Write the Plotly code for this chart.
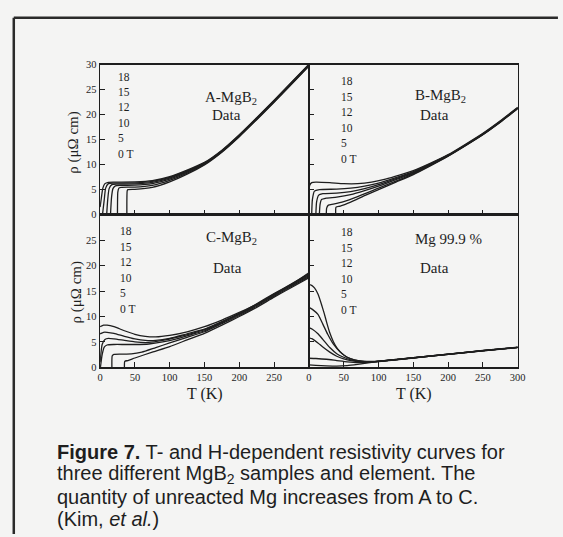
import plotly.graph_objects as go

# ---------------- data ----------------
FIELDS = ["0 T", "5", "10", "12", "15", "18"]

# A-MgB2
A_T0 = [38.5, 39, 40, 50, 75, 100, 125, 150, 175, 200, 225, 250, 275, 300]
A_R0 = [0, 4.8, 5.0, 5.05, 5.45, 6.55, 8.1, 9.95, 12.5, 15.6, 19.0, 22.5, 26.1, 29.7]
A_T5 = [25, 25.5, 27, 30, 40, 50, 75, 100, 125, 150, 175, 200, 225, 250, 275, 300]
A_R5 = [0, 4.5, 5.3, 5.45, 5.5, 5.5, 5.85, 6.85, 8.3, 10.1, 12.6, 15.7, 19.1, 22.6, 26.2, 29.8]
A_T10 = [15, 16.5, 18.5, 22, 30, 50, 75, 100, 125, 150, 175, 200, 225, 250, 275, 300]
A_R10 = [0, 3.5, 5.2, 5.75, 5.85, 5.9, 6.2, 7.1, 8.5, 10.2, 12.7, 15.8, 19.2, 22.7, 26.3, 29.9]
A_T12 = [9.5, 11, 13, 17, 25, 50, 75, 100, 125, 150, 175, 200, 225, 250, 275, 300]
A_R12 = [0, 3.0, 5.2, 6.0, 6.1, 6.15, 6.45, 7.3, 8.65, 10.3, 12.75, 15.85, 19.25, 22.75, 26.35, 29.95]
A_T15 = [3.5, 6, 8, 12, 20, 50, 75, 100, 125, 150, 175, 200, 225, 250, 275, 300]
A_R15 = [0, 3.0, 5.3, 6.2, 6.3, 6.35, 6.65, 7.45, 8.75, 10.35, 12.8, 15.9, 19.3, 22.8, 26.4, 30.0]
A_T18 = [0, 2, 4, 7, 12, 20, 50, 75, 100, 125, 150, 175, 200, 225, 250, 275, 300]
A_R18 = [1.5, 3.5, 5.3, 6.2, 6.45, 6.5, 6.55, 6.8, 7.6, 8.9, 10.45, 12.9, 16.0, 19.4, 22.9, 26.5, 30.1]

# B-MgB2
B_T0 = [38.5, 39, 45, 60, 80, 100, 125, 150, 175, 200, 225, 250, 275, 300]
B_R0 = [0, 1.5, 1.7, 2.5, 3.8, 5.0, 6.5, 8.0, 9.8, 11.7, 13.8, 16.0, 18.5, 21.2]
B_T5 = [25, 25.5, 28, 35, 50, 70, 100, 125, 150, 175, 200, 225, 250, 275, 300]
B_R5 = [0, 1.3, 1.9, 2.1, 2.6, 3.6, 5.3, 6.7, 8.15, 9.9, 11.75, 13.85, 16.05, 18.55, 21.25]
B_T10 = [15, 16, 18, 25, 40, 60, 80, 100, 125, 150, 175, 200, 225, 250, 275, 300]
B_R10 = [0, 2.0, 3.0, 3.3, 3.5, 4.0, 4.8, 5.7, 7.0, 8.3, 10.0, 11.8, 13.9, 16.1, 18.6, 21.3]
B_T12 = [10, 11, 14, 20, 40, 60, 80, 100, 125, 150, 175, 200, 225, 250, 275, 300]
B_R12 = [0, 2.5, 3.9, 4.2, 4.3, 4.6, 5.2, 6.0, 7.2, 8.45, 10.1, 11.85, 13.95, 16.15, 18.65, 21.35]
B_T15 = [4, 5, 8, 15, 40, 60, 80, 100, 125, 150, 175, 200, 225, 250, 275, 300]
B_R15 = [0, 3.0, 4.7, 5.0, 5.1, 5.3, 5.7, 6.3, 7.4, 8.6, 10.2, 11.9, 14.0, 16.2, 18.7, 21.4]
B_T18 = [0, 1, 4, 10, 30, 50, 70, 90, 110, 130, 150, 175, 200, 225, 250, 275, 300]
B_R18 = [3.5, 5.8, 6.4, 6.5, 6.4, 6.2, 6.2, 6.5, 7.1, 7.9, 8.8, 10.3, 12.0, 14.1, 16.3, 18.8, 21.5]

# C-MgB2
C_T0 = [35, 35.5, 40, 50, 75, 100, 125, 150, 175, 200, 225, 250, 275, 300]
C_R0 = [0, 1.2, 1.35, 1.85, 3.0, 4.1, 5.4, 6.7, 8.3, 10.0, 11.8, 13.8, 15.7, 17.6]
C_T5 = [17, 17.5, 20, 30, 45, 60, 80, 100, 125, 150, 175, 200, 225, 250, 275, 300]
C_R5 = [0, 2.3, 2.55, 2.6, 2.65, 3.0, 3.9, 4.8, 5.9, 7.0, 8.6, 10.2, 12.0, 14.0, 15.9, 17.8]
C_T10 = [0.5, 3, 6, 10, 20, 35, 50, 70, 90, 110, 130, 150, 175, 200, 225, 250, 275, 300]
C_R10 = [0, 2.5, 4.0, 4.4, 4.5, 4.5, 4.5, 4.6, 5.0, 5.6, 6.4, 7.2, 8.8, 10.4, 12.2, 14.2, 16.1, 18.0]
C_T12 = [0, 3, 7, 12, 20, 35, 50, 70, 90, 110, 130, 150, 175, 200, 225, 250, 275, 300]
C_R12 = [1.0, 4.5, 5.5, 5.7, 5.6, 5.3, 5.0, 4.9, 5.3, 5.9, 6.6, 7.4, 8.9, 10.5, 12.3, 14.4, 16.3, 18.2]
C_T15 = [0, 5, 10, 20, 35, 50, 65, 80, 100, 125, 150, 175, 200, 225, 250, 275, 300]
C_R15 = [6.6, 6.9, 6.9, 6.7, 6.1, 5.6, 5.3, 5.3, 5.7, 6.6, 7.5, 9.0, 10.6, 12.5, 14.5, 16.4, 18.4]
C_T18 = [0, 5, 10, 20, 35, 50, 65, 80, 100, 125, 150, 175, 200, 225, 250, 275, 300]
C_R18 = [8.0, 8.3, 8.3, 8.0, 7.2, 6.5, 6.1, 6.0, 6.3, 7.0, 8.0, 9.3, 10.8, 12.4, 14.3, 16.3, 18.6]

# Mg 99.9 %
D_T0 = [0, 10, 25, 40, 55, 70, 85, 100, 150, 200, 250, 300]
D_R0 = [0.5, 0.4, 0.3, 0.25, 0.35, 0.6, 0.9, 1.15, 1.85, 2.55, 3.25, 3.9]
D_T5 = [0, 10, 25, 40, 55, 70, 85, 100, 150, 200, 250, 300]
D_R5 = [1.8, 1.75, 1.6, 1.35, 1.1, 0.95, 1.0, 1.2, 1.87, 2.57, 3.27, 3.92]
D_T10 = [0, 5, 13, 20, 30, 40, 50, 60, 75, 90, 100, 150, 200, 250, 300]
D_R10 = [5.8, 5.6, 4.8, 4.0, 3.0, 2.2, 1.7, 1.35, 1.1, 1.1, 1.2, 1.88, 2.58, 3.28, 3.93]
D_T12 = [0, 5, 13, 20, 30, 40, 50, 60, 75, 90, 100, 150, 200, 250, 300]
D_R12 = [7.8, 7.5, 6.6, 5.5, 3.9, 2.7, 2.0, 1.5, 1.15, 1.1, 1.2, 1.89, 2.59, 3.29, 3.94]
D_T15 = [0, 5, 13, 20, 27, 35, 45, 55, 65, 80, 95, 150, 200, 250, 300]
D_R15 = [11.8, 11.4, 10.4, 8.5, 6.5, 4.6, 3.0, 2.0, 1.5, 1.15, 1.15, 1.9, 2.6, 3.3, 3.95]
D_T18 = [0, 4, 8, 13, 18, 22, 26, 30, 35, 41, 48, 55, 65, 78, 90, 100, 150, 200, 250, 300]
D_R18 = [16.3, 16.1, 15.6, 14.4, 12.4, 10.6, 8.6, 6.8, 5.1, 3.7, 2.7, 2.0, 1.5, 1.25, 1.2, 1.25, 1.92, 2.62, 3.32, 3.97]

PANEL_TITLES = ["A-MgB<sub>2</sub>", "B-MgB<sub>2</sub>", "C-MgB<sub>2</sub>", "Mg 99.9 %"]
X_TICKS_RIGHT = [0, 50, 100, 150, 200, 250, 300]
X_TICKS_LEFT = [0, 50, 100, 150, 200, 250]
Y_TICKS_TOP = [0, 5, 10, 15, 20, 25, 30]
Y_TICKS_BOTTOM = [0, 5, 10, 15, 20, 25]

CAPTION = [
    "<b>Figure 7.</b> T- and H-dependent resistivity curves for",
    "three different MgB<sub>2</sub> samples and element. The",
    "quantity of unreacted Mg increases from A to C.",
    "(Kim, <i>et al.</i>)",
]

# ---------------- figure ----------------
W, H = 563, 537
BG = "#f4f4f3"
INK = "#1e1e1e"
SERIF = "Liberation Serif, Times New Roman, serif"
SANS = "Liberation Sans, Arial, sans-serif"

def px(x):
    return x / W

def py(y):
    return 1 - y / H

panels = [
    ([(A_T0, A_R0), (A_T5, A_R5), (A_T10, A_R10), (A_T12, A_R12), (A_T15, A_R15), (A_T18, A_R18)], "x", "y"),
    ([(B_T0, B_R0), (B_T5, B_R5), (B_T10, B_R10), (B_T12, B_R12), (B_T15, B_R15), (B_T18, B_R18)], "x2", "y2"),
    ([(C_T0, C_R0), (C_T5, C_R5), (C_T10, C_R10), (C_T12, C_R12), (C_T15, C_R15), (C_T18, C_R18)], "x3", "y3"),
    ([(D_T0, D_R0), (D_T5, D_R5), (D_T10, D_R10), (D_T12, D_R12), (D_T15, D_R15), (D_T18, D_R18)], "x4", "y4"),
]

fig = go.Figure()
for curves, xa, ya in panels:
    for (t, r), name in zip(curves, FIELDS):
        fig.add_trace(go.Scatter(
            x=t, y=r, mode="lines", xaxis=xa, yaxis=ya, name=name,
            line=dict(color=INK, width=1.3, shape="spline", smoothing=0.5),
            showlegend=False, hoverinfo="skip"))

# plot-area pixel boxes
XL = (99, 312)
XR = (312, 525)
YT = (61, 214)
YB = (214, 370)

def xdom(a):
    return [px(a[0]), px(a[1])]

def ydom(a):
    return [py(a[1]), py(a[0])]

axis_common = dict(showline=True, linecolor=INK, linewidth=1.4, mirror=True,
                   ticks="inside", ticklen=5, tickwidth=1, tickcolor=INK,
                   showgrid=False, zeroline=False,
                   tickfont=dict(family=SERIF, size=10.5, color=INK))

fig.update_layout(
    width=W, height=H, margin=dict(l=0, r=0, t=0, b=0),
    paper_bgcolor=BG, plot_bgcolor=BG, showlegend=False,
    xaxis=dict(domain=xdom(XL), range=[0, 300], anchor="y", tickvals=X_TICKS_RIGHT, showticklabels=False, **axis_common),
    yaxis=dict(domain=ydom(YT), range=[0, 30], anchor="x", tickvals=Y_TICKS_TOP, **axis_common),
    xaxis2=dict(domain=xdom(XR), range=[0, 300], anchor="y2", tickvals=X_TICKS_RIGHT, showticklabels=False, **axis_common),
    yaxis2=dict(domain=ydom(YT), range=[0, 30], anchor="x2", tickvals=Y_TICKS_TOP, showticklabels=False, **axis_common),
    xaxis3=dict(domain=xdom(XL), range=[0, 300], anchor="y3", tickvals=X_TICKS_LEFT, **axis_common),
    yaxis3=dict(domain=ydom(YB), range=[0, 30], anchor="x3", tickvals=Y_TICKS_BOTTOM, **axis_common),
    xaxis4=dict(domain=xdom(XR), range=[0, 300], anchor="y4", tickvals=X_TICKS_RIGHT, **axis_common),
    yaxis4=dict(domain=ydom(YB), range=[0, 30], anchor="x4", tickvals=Y_TICKS_BOTTOM, showticklabels=False, **axis_common),
)

ann = []

def text(x, y, s, size, family=SERIF, xanchor="center", angle=0):
    ann.append(dict(x=px(x), y=py(y), xref="paper", yref="paper", text=s, showarrow=False,
                    xanchor=xanchor, yanchor="middle", textangle=angle,
                    font=dict(family=family, size=size, color=INK)))

# field labels
field_order = ["18", "15", "12", "10", "5", "0 T"]
label_pos = [(115, 73), (343, 78), (117, 231), (343, 232)]
for (lx, ly) in label_pos:
    for i, s in enumerate(field_order):
        text(lx, ly + i * 15.8, s, 11.5, xanchor="left")

# panel titles and "Data"
title_pos = [(233, 95), (446, 93), (233, 238), (454, 239)]
data_pos = [(228, 112), (440, 112), (229, 268), (440, 268)]
for s, (tx, ty), (dx, dy) in zip(PANEL_TITLES, title_pos, data_pos):
    text(tx, ty, s, 15)
    text(dx, dy, "Data", 15)

# axis titles
text(72, 140, "ρ (μΩ cm)", 15, angle=-90)
text(75, 293, "ρ (μΩ cm)", 15, angle=-90)
text(206, 397, "T (K)", 16)
text(419, 397, "T (K)", 16)

# caption
for i, line in enumerate(CAPTION):
    text(53, 456 + i * 23, line, 20, family=SANS, xanchor="left")

fig.update_layout(annotations=ann)

# outer frame (open at right and bottom, as cropped)
fig.add_shape(type="line", xref="paper", yref="paper", x0=px(11), x1=px(11), y0=py(13), y1=py(540),
              line=dict(color="#2a2a2a", width=2.5))
fig.add_shape(type="line", xref="paper", yref="paper", x0=px(11), x1=px(566), y0=py(13), y1=py(13),
              line=dict(color="#2a2a2a", width=2.5))

fig.write_html(
    "out.html",
    config={"displayModeBar": False, "staticPlot": True},
    post_script="document.body.style.margin='0';document.body.style.padding='0';"
                "document.body.style.background='" + BG + "';document.body.style.overflow='hidden';",
)
